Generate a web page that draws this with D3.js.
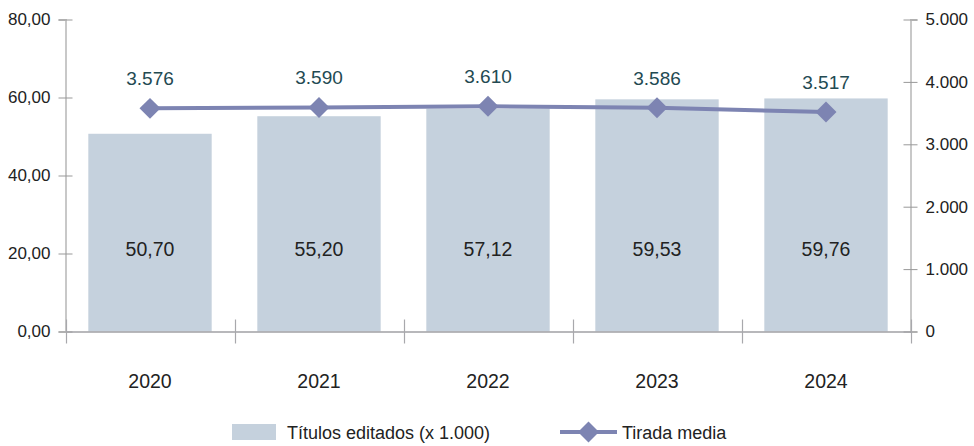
<!DOCTYPE html>
<html lang="es">
<head>
    <meta charset="UTF-8">
    <title>Títulos editados y tirada media</title>
    <script src="https://cdn.jsdelivr.net/npm/d3@7"></script>
    <style>
        body { margin: 0; background: #fff; }
        text { font-family: "Liberation Sans", Arial, sans-serif; }
    </style>
</head>
<body>
<script>

    var years = ['2020', '2021', '2022', '2023', '2024'];
    var titulos = [50.70, 55.20, 57.12, 59.53, 59.76];   // miles
    var tirada = [3576, 3590, 3610, 3586, 3517];
    var leftTicks = [0, 20, 40, 60, 80];
    var rightTicks = [0, 1000, 2000, 3000, 4000, 5000];

    var width = 974, height = 446;
    // ojo: "top" es reservado en window
    var mLeft = 65.5, mRight = 910.5, mTop = 19.5, mBottom = 331.5;
    var font = '"Liberation Sans", Arial, sans-serif';

    var es = d3.formatLocale({decimal: ',', thousands: '.', grouping: [3], currency: ['', ' €']});
    var fmt2 = es.format(',.2f');
    var fmt0 = es.format(',d');

    var svg = d3.select('body')
        .append('svg')
        .attr('width', width)
        .attr('height', height);

    var x = d3.scaleBand()
        .domain(years)
        .range([mLeft, mRight])
        .paddingInner(0.27)
        .paddingOuter(0.135);

    var xCat = d3.scaleBand().domain(years).range([mLeft, mRight]);

    var yL = d3.scaleLinear().domain([0, 80]).range([mBottom, mTop]);
    var yR = d3.scaleLinear().domain([0, 5000]).range([mBottom, mTop]);

    // barras
    svg.selectAll('rect.bar')
        .data(titulos)
        .enter()
        .append('rect')
        .attr('class', 'bar')
        .attr('x', function (d, i) { return x(years[i]); })
        .attr('y', function (d) { return yL(d); })
        .attr('width', x.bandwidth())
        .attr('height', function (d) { return mBottom - yL(d); })
        .attr('fill', '#c5d1dd');

    svg.selectAll('text.barlab')
        .data(titulos)
        .enter()
        .append('text')
        .attr('class', 'barlab')
        .attr('x', function (d, i) { return xCat(years[i]) + xCat.bandwidth() / 2; })
        .attr('y', 256)
        .attr('text-anchor', 'middle')
        .attr('font-size', 19.5)
        .attr('fill', '#222')
        .text(function (d) { return fmt2(d); });

    // eje izquierdo
    var axL = svg.append('g')
        .attr('transform', 'translate(' + mLeft + ',0)')
        .call(d3.axisLeft(yL).tickValues(leftTicks).tickFormat(fmt2).tickSize(7).tickPadding(8));
    axL.select('.domain').attr('stroke', '#c8c8c8').attr('stroke-width', 2);
    axL.selectAll('.tick line').attr('x1', -7).attr('x2', 7).attr('stroke', '#999');
    axL.selectAll('.tick text').attr('font-size', 17).attr('fill', '#222').attr('font-family', font);

    // eje derecho
    var axR = svg.append('g')
        .attr('transform', 'translate(' + mRight + ',0)')
        .call(d3.axisRight(yR).tickValues(rightTicks).tickFormat(fmt0).tickSize(7).tickPadding(8));
    axR.select('.domain').attr('stroke', '#c8c8c8').attr('stroke-width', 2);
    axR.selectAll('.tick line').attr('x1', -7).attr('x2', 7).attr('stroke', '#999');
    axR.selectAll('.tick text').attr('font-size', 17).attr('fill', '#222').attr('font-family', font);

    // eje inferior
    var axB = svg.append('g')
        .attr('transform', 'translate(0,' + mBottom + ')')
        .call(d3.axisBottom(xCat).tickSize(0).tickPadding(43));
    axB.select('.domain').attr('stroke', '#a0a0a4').attr('stroke-width', 1.5);
    axB.selectAll('.tick text').attr('font-size', 19.5).attr('fill', '#222').attr('font-family', font);

    var seps = years.map(function (d) { return xCat(d); }).concat([mRight]);
    svg.append('g').selectAll('line')
        .data(seps)
        .enter()
        .append('line')
        .attr('x1', function (d) { return Math.round(d) + 0.5; })
        .attr('x2', function (d) { return Math.round(d) + 0.5; })
        .attr('y1', mBottom - 12)
        .attr('y2', mBottom + 12)
        .attr('stroke', '#a8a8ac')
        .attr('stroke-width', 1.2);

    // línea tirada media
    var cx = function (d, i) { return xCat(years[i]) + xCat.bandwidth() / 2; };
    var line = d3.line()
        .x(cx)
        .y(function (d) { return yR(d); });

    svg.append('path')
        .datum(tirada)
        .attr('d', line)
        .attr('fill', 'none')
        .attr('stroke', '#7d84b2')
        .attr('stroke-width', 4);

    var diamond = d3.symbol().type(d3.symbolDiamond2).size(280);
    svg.selectAll('path.pt')
        .data(tirada)
        .enter()
        .append('path')
        .attr('class', 'pt')
        .attr('d', diamond)
        .attr('transform', function (d, i) { return 'translate(' + cx(d, i) + ',' + yR(d) + ')'; })
        .attr('fill', '#7d84b2');

    svg.selectAll('text.ptlab')
        .data(tirada)
        .enter()
        .append('text')
        .attr('class', 'ptlab')
        .attr('x', cx)
        .attr('y', function (d) { return yR(d) - 23; })
        .attr('text-anchor', 'middle')
        .attr('font-size', 19)
        .attr('fill', '#234a52')
        .text(function (d) { return fmt0(d); });

    // leyenda
    var lg = svg.append('g');
    lg.append('rect')
        .attr('x', 232).attr('y', 424)
        .attr('width', 44).attr('height', 16)
        .attr('fill', '#c5d1dd');
    lg.append('text')
        .attr('x', 287).attr('y', 439)
        .attr('font-size', 18).attr('fill', '#222')
        .text('Títulos editados (x 1.000)');
    lg.append('line')
        .attr('x1', 560).attr('x2', 617)
        .attr('y1', 432).attr('y2', 432)
        .attr('stroke', '#7d84b2').attr('stroke-width', 4);
    lg.append('path')
        .attr('d', diamond)
        .attr('transform', 'translate(588.5,432)')
        .attr('fill', '#7d84b2');
    lg.append('text')
        .attr('x', 622).attr('y', 439)
        .attr('font-size', 18).attr('fill', '#222')
        .text('Tirada media');

</script>
</body>
</html>
